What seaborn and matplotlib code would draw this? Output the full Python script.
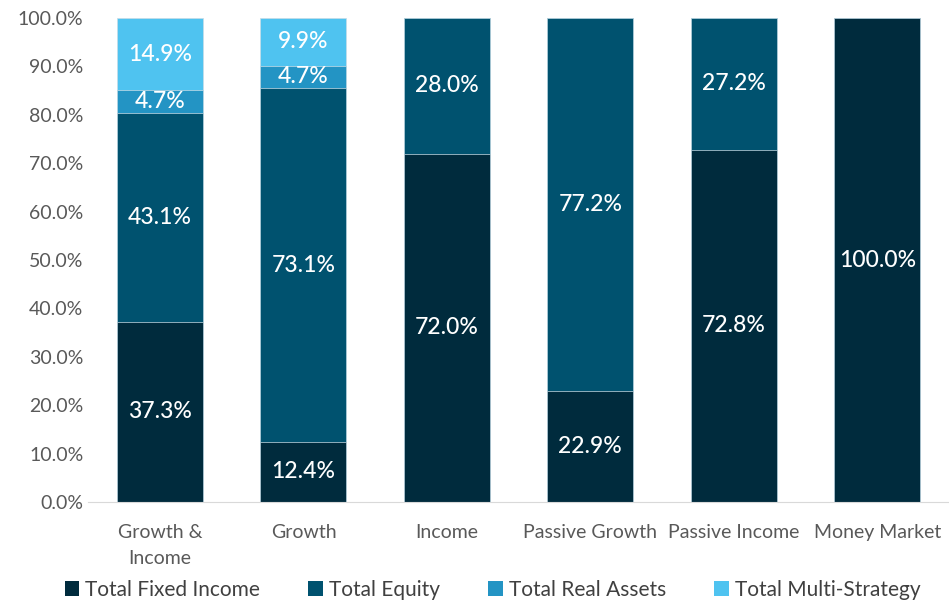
import numpy as np
import pandas as pd
import seaborn as sns
import matplotlib.pyplot as plt
from matplotlib.patches import Patch

categories = ["Growth &\nIncome", "Growth", "Income", "Passive Growth", "Passive Income", "Money Market"]
fixed_income = [37.3, 12.4, 72.0, 22.9, 72.8, 100.0]
equity = [43.1, 73.1, 28.0, 77.2, 27.2, 0.0]
real_assets = [4.7, 4.7, 0.0, 0.0, 0.0, 0.0]
multi_strategy = [14.9, 9.9, 0.0, 0.0, 0.0, 0.0]

series = ["Total Fixed Income", "Total Equity", "Total Real Assets", "Total Multi-Strategy"]
colors = ["#002B3D", "#00526F", "#2394C4", "#4FC3F0"]

df = pd.DataFrame({"category": categories,
                   "Total Fixed Income": fixed_income,
                   "Total Equity": equity,
                   "Total Real Assets": real_assets,
                   "Total Multi-Strategy": multi_strategy})

sns.set_style("white")
plt.rcParams['font.family'] = ['Lato', 'DejaVu Sans']

fig = plt.figure(figsize=(9.49, 6.03), dpi=100)
ax = fig.add_axes([0.093, 0.1675, 0.907, 0.8025])

# cumulative tops, drawn from the top segment down so lower ones overlap
cum = df[series].cumsum(axis=1)
for s, c in reversed(list(zip(series, colors))):
    sns.barplot(data=cum.assign(category=df["category"]), x="category", y=s,
                color=c, saturation=1, width=0.6, ax=ax,
                edgecolor="#c8dce6", linewidth=0.5)

# segment labels
for i in range(len(categories)):
    base = 0.0
    for s in series:
        v = df[s].iloc[i]
        if v > 0:
            ax.text(i, base + v / 2, f"{v:.1f}%", ha="center", va="center",
                    color="white", fontsize=16.5, fontweight="medium")
        base += v

ax.set_ylim(0, 100)
ax.set_xlim(-0.5, 5.5)
ax.set_yticks(np.arange(0, 101, 10))
ax.set_yticklabels([f"{t:.1f}%" for t in np.arange(0, 101, 10)])
ax.set_xticks(range(len(categories)))
ax.set_xticklabels(categories, linespacing=1.65)
ax.set_xlabel("")
ax.set_ylabel("")
ax.tick_params(axis="both", colors="#595959", labelsize=14, length=0)
ax.tick_params(axis="x", pad=16)
for sp in ["left", "right", "top"]:
    ax.spines[sp].set_visible(False)
ax.spines["bottom"].set_color("#d9d9d9")

handles = [Patch(facecolor=c, edgecolor="none") for c in colors]
fig.legend(handles, series, loc="center", bbox_to_anchor=(0.519, 0.022), ncol=4,
           frameon=False, fontsize=15, handlelength=0.7, handleheight=0.7,
           handletextpad=0.3, columnspacing=2.3, labelcolor="#404040")

fig.savefig("out.png", dpi=100)
